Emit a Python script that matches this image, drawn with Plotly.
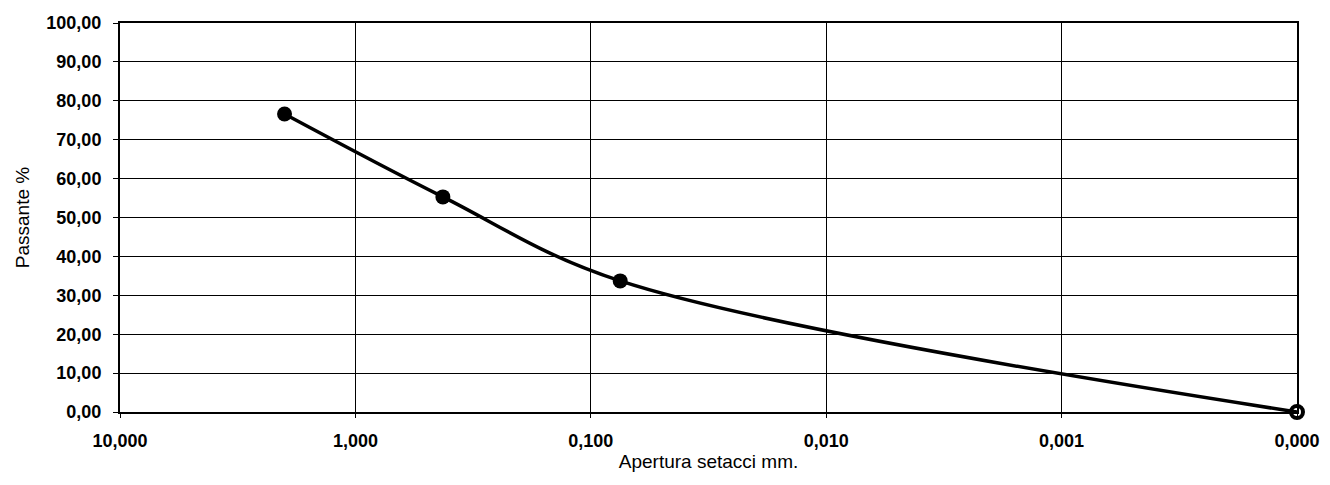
import plotly.graph_objects as go

# sieve data (mm, % passing)
apertura = [2.0, 0.425, 0.075, 0.0001]
passante = [76.6, 55.3, 33.7, 0.0]

x_ticks = [10, 1, 0.1, 0.01, 0.001, 0.0001]
x_labels = ["10,000", "1,000", "0,100", "0,010", "0,001", "0,000"]
y_ticks = [0, 10, 20, 30, 40, 50, 60, 70, 80, 90, 100]
y_labels = ["0,00", "10,00", "20,00", "30,00", "40,00", "50,00",
            "60,00", "70,00", "80,00", "90,00", "100,00"]

family = "Liberation Sans, Arial, sans-serif"
tick_font = dict(family=family, size=18, color="black", weight="bold")
title_font = dict(family=family, size=19, color="black")

fig = go.Figure()
# smoothed curve
fig.add_trace(go.Scatter(
    x=apertura, y=passante, mode="lines",
    line=dict(color="black", width=3.5, shape="spline", smoothing=1),
    showlegend=False, hoverinfo="skip",
))
# sieve points
fig.add_trace(go.Scatter(
    x=apertura[:-1], y=passante[:-1], mode="markers",
    marker=dict(color="black", size=15, opacity=1, line=dict(width=0)),
    showlegend=False,
))
# end point at 0,000
fig.add_trace(go.Scatter(
    x=apertura[-1:], y=passante[-1:], mode="markers",
    marker=dict(color="black", size=12, opacity=1, symbol="circle-open",
                line=dict(color="black", width=4)),
    showlegend=False, cliponaxis=False,
))

common = dict(
    showgrid=True,
    gridcolor="black",
    gridwidth=1.3,
    showline=True,
    linecolor="black",
    linewidth=2,
    mirror=True,
    ticks="outside",
    tickcolor="black",
    tickfont=tick_font,
    zeroline=False,
    automargin=False,
)

fig.update_xaxes(
    type="log",
    range=[1, -4],
    tickvals=x_ticks,
    ticktext=x_labels,
    ticklen=4,
    ticklabelstandoff=7,
    title=dict(text="Apertura setacci mm.", font=title_font, standoff=5),
    **common,
)
fig.update_yaxes(
    range=[0, 100],
    tickvals=y_ticks,
    ticktext=y_labels,
    ticklen=5,
    ticklabelstandoff=8,
    title=dict(text="Passante %", font=title_font, standoff=12),
    **common,
)

fig.update_layout(
    width=1322,
    height=477,
    margin=dict(l=112, r=33, t=15, b=73),
    plot_bgcolor="white",
    paper_bgcolor="white",
    font=dict(family=family, color="black"),
)

fig.write_html("out.html")
